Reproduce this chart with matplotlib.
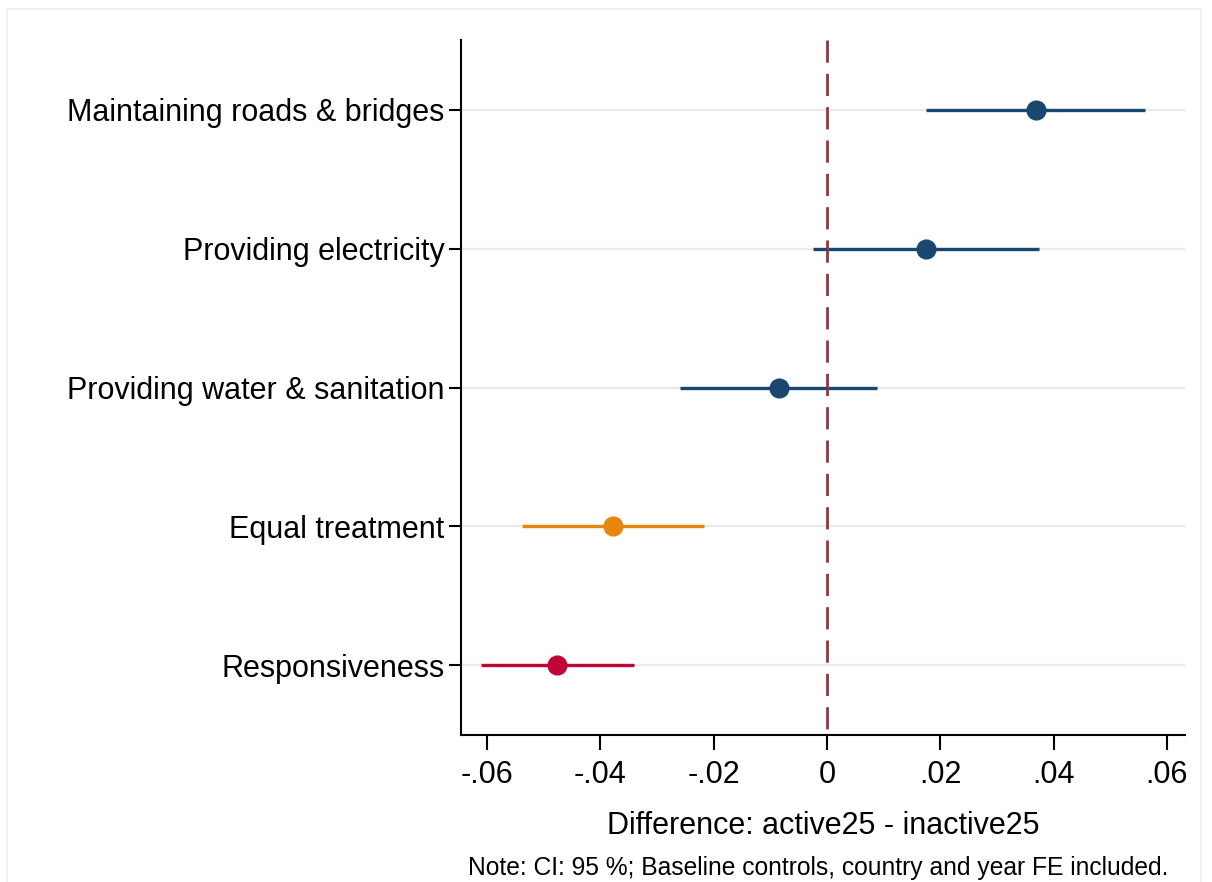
import matplotlib
matplotlib.use("Agg")
import matplotlib.pyplot as plt
from matplotlib.patches import Rectangle

plt.rcParams['font.family'] = ['Liberation Sans', 'DejaVu Sans']

# point estimates and 95% CI bounds, top row first
labels = ['Maintaining roads & bridges', 'Providing electricity',
          'Providing water & sanitation', 'Equal treatment', 'Responsiveness']
coef = [0.0369, 0.0174, -0.0085, -0.0378, -0.0476]
ci_lo = [0.0175, -0.0025, -0.0259, -0.0538, -0.0610]
ci_hi = [0.0561, 0.0374, 0.0088, -0.0217, -0.0341]
colors = ['#1a476f', '#1a476f', '#1a476f', '#e8870e', '#c10534']
xticks = [-0.06, -0.04, -0.02, 0, 0.02, 0.04, 0.06]
xtick_labels = ['-.06', '-.04', '-.02', '0', '.02', '.04', '.06']

fig = plt.figure(figsize=(12.12, 8.82), dpi=100)
ax = fig.add_axes([0.3804, 0.1667, 0.5973, 0.7879])

# faint outer frame
fig.patches.append(Rectangle((0.006, -0.01), 0.985, 1.0, transform=fig.transFigure,
                             fill=False, edgecolor='#ececec', linewidth=1.2))

ypos = list(range(len(labels), 0, -1))
for y in ypos:
    ax.axhline(y, color='#eaeaea', linewidth=1.6, zorder=0)

# zero reference line, dashes starting from the top edge
ax.plot([0, 0], [len(labels) + 0.5, 0.5], color='#90353b', linewidth=2,
        dashes=(8, 4), zorder=2.5)

for y, c, lo, hi, col in zip(ypos, coef, ci_lo, ci_hi, colors):
    ax.plot([lo, hi], [y, y], color=col, linewidth=2.4, solid_capstyle='butt', zorder=2)
    ax.plot(c, y, 'o', color=col, markersize=13.5, zorder=3)

ax.set_xlim(-0.0646, 0.0632)
ax.set_ylim(0.5, len(labels) + 0.5)
ax.set_yticks(ypos)
ax.set_yticklabels(labels, fontsize=22)
ax.set_xticks(xticks)
ax.set_xticklabels(xtick_labels, fontsize=22)
ax.tick_params(axis='y', length=9, width=1.5, pad=3)
ax.tick_params(axis='x', length=11, width=1.5, pad=7)

for s in ['top', 'right']:
    ax.spines[s].set_visible(False)
for s in ['left', 'bottom']:
    ax.spines[s].set_linewidth(1.5)

ax.set_xlabel('Difference: active25 - inactive25', fontsize=22, labelpad=15)

fig.text(0.964, 0.016, 'Note: CI: 95 %; Baseline controls, country and year FE included.',
         ha='right', va='center', fontsize=17.7)

fig.savefig('out.png', dpi=100, facecolor='white')
